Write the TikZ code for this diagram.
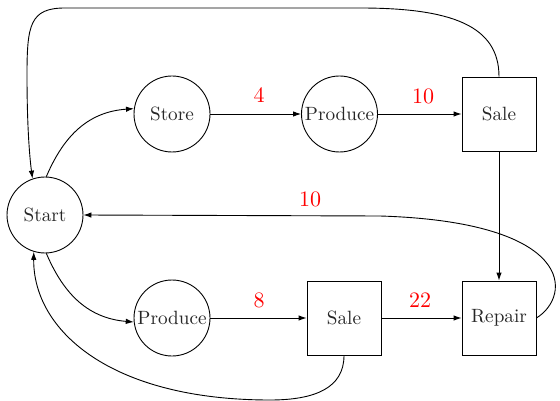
\documentclass[tikz,border=0pt]{standalone}
\usepackage{fontspec}
\setmainfont{lmroman10-regular.otf}
\usetikzlibrary{arrows.meta}
\begin{document}
\begin{tikzpicture}[x=1pt,y=-1pt,
  every path/.style={line width=0.9pt},
  arr/.style={-{Latex[length=8pt,width=5.5pt]}},
  circ/.style={draw,circle,minimum size=76pt,inner sep=0pt,font=\fontsize{19.2}{22}\selectfont,text=black!85},
  sq/.style={draw,rectangle,minimum size=74pt,inner sep=0pt,font=\fontsize{19.2}{22}\selectfont,text=black!85},
  lbl/.style={text=red,font=\fontsize{22}{26}\selectfont,inner sep=0pt}]
\useasboundingbox (0,0) rectangle (560,401);
\node[circ] (start) at (45,215) {Start};
\node[circ] (store) at (172,114) {Store};
\node[circ] (prodT) at (339.5,114) {Produce};
\node[sq] (saleT) at (499,114) {Sale};
\node[circ] (prodB) at (172,318) {Produce};
\node[sq] (saleB) at (344,318) {Sale};
\node[sq] (repair) at (499,318) {Repair};
\node[lbl] (l4) at (259,95) {4};
\node[lbl] (l10a) at (423,96) {10};
\node[lbl] (l8) at (259,300) {8};
\node[lbl] (l22) at (420,300) {22};
\node[lbl] (l10b) at (310,199) {10};
\draw[arr] (store) -- (prodT);
\draw[arr] (prodT) -- (saleT);
\draw[arr] (prodB) -- (saleB);
\draw[arr] (saleB) -- (repair);
\draw[arr] (saleT) -- (repair);
\draw[arr] (start.88) .. controls (62,140) and (85,112) .. (store.172);
\draw[arr] (start.-88) .. controls (62,290) and (85,318) .. (prodB.186);
\draw[arr] (saleT.north) .. controls (499,25) and (450,8) .. (360,8) -- (65,8)
  .. controls (30,8) and (27,25) .. (27,75) .. controls (27,130) and (30,160) .. (start.109);
\draw[arr] (saleB.south) .. controls (344,388) and (315,400) .. (270,400)
  .. controls (110,400) and (33,330) .. (start.-107);
\draw[arr] (repair.east) .. controls (572,296) and (576,222) .. (380,216) -- (start.east);
\end{tikzpicture}
\end{document}
